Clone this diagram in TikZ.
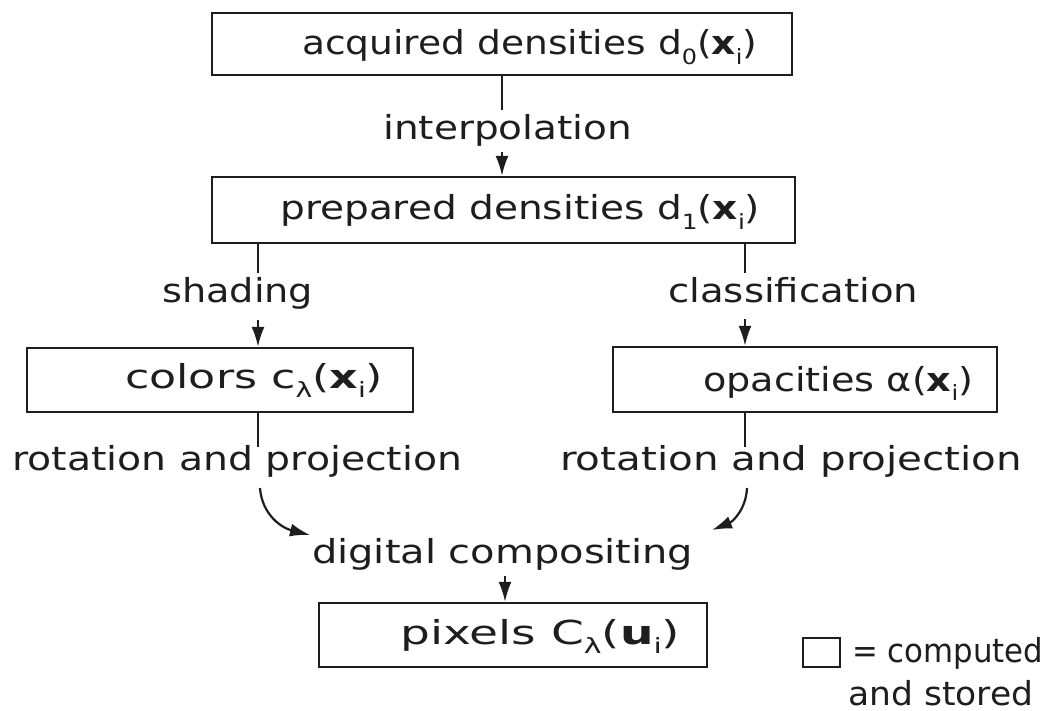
\documentclass[tikz,border=0pt]{standalone}
\usepackage{fontspec}
\setmainfont{DejaVu Sans}
\usepackage{graphicx}
\usetikzlibrary{arrows.meta}
\definecolor{ink}{HTML}{1E1E1E}
\newcommand\lowsub[1]{\raisebox{-0.5ex}{\fontsize{21}{22}\selectfont #1}}
\newcommand\fitw[2]{\resizebox{#1pt}{\height}{#2}}
\begin{document}
\begin{tikzpicture}[x=1pt,y=-1pt,
  stored/.style={draw=ink, line width=2.4pt, inner sep=0pt},
  lab/.style={inner sep=0pt, anchor=base west, text=ink, font=\fontsize{33}{36}\selectfont},
  conn/.style={draw=ink, line width=2.2pt},
  arr/.style={conn, -{Latex[length=20pt,width=13pt]}}]
\useasboundingbox[fill=white] (0,0) rectangle (1052,711);

% boxes
\node[stored, minimum width=580pt, minimum height=62pt] (A) at (502,44) {};
\node[stored, minimum width=583pt, minimum height=66pt] (B) at (503.5,210) {};
\node[stored, minimum width=386pt, minimum height=64pt] (C) at (220,380) {};
\node[stored, minimum width=384pt, minimum height=65pt] (D) at (805,379.5) {};
\node[stored, minimum width=388pt, minimum height=64pt] (E) at (513,635) {};
\node[draw=ink, line width=2pt, minimum width=37pt, minimum height=29pt, inner sep=0pt] (L) at (821.5,652.5) {};

% box texts
\node[lab] (tA) at (302,55) {\fitw{455}{acquired densities d\lowsub{0}(\textbf{x}\lowsub{i})}};
\node[lab] (tB) at (280,220) {\fitw{480}{prepared densities d\lowsub{1}(\textbf{x}\lowsub{i})}};
\node[lab] (tC) at (125,388) {\fitw{258}{colors c\lowsub{λ}(\textbf{x}\lowsub{i})}};
\node[lab] (tD) at (703,391) {\fitw{270}{opacities α(\textbf{x}\lowsub{i})}};
\node[lab] (tE) at (400,644) {\fitw{280}{pixels C\lowsub{λ}(\textbf{u}\lowsub{i})}};

% process labels
\node[lab] (interp) at (383,140) {\fitw{249}{interpolation}};
\node[lab] (shade) at (162,303) {\fitw{151}{shading}};
\node[lab] (classif) at (668,303) {\fitw{250}{classification}};
\node[lab] (rotL) at (12,470) {\fitw{450}{rotation and projection}};
\node[lab] (rotR) at (560,470) {\fitw{462}{rotation and projection}};
\node[lab] (comp) at (312,563) {\fitw{381}{digital compositing}};
\node[lab] (leg1) at (852,662) {\fitw{191}{= computed}};
\node[lab] (leg2) at (848,705) {\fitw{185}{and stored}};

% connector coordinates
\coordinate (a1) at (502,110);
\coordinate (a2) at (502,152);
\coordinate (b1) at (258,273);
\coordinate (b2) at (258,320);
\coordinate (c1) at (745,273);
\coordinate (c2) at (745,319);
\coordinate (d1) at (258,447);
\coordinate (d2) at (260,488);
\coordinate (d3) at (310,535);
\coordinate (e1) at (745,447);
\coordinate (e2) at (747,488);
\coordinate (e3) at (712,530);
\coordinate (f1) at (505,576);

% connectors
\draw[conn] (A.south -| a1) -- (a1);
\draw[arr] (a2) -- (B.north -| a2);
\draw[conn] (B.south -| b1) -- (b1);
\draw[arr] (b2) -- (C.north -| b2);
\draw[conn] (B.south -| c1) -- (c1);
\draw[arr] (c2) -- (D.north -| c2);
\draw[conn] (C.south -| d1) -- (d1);
\draw[arr] (d2) .. controls (262,515) and (282,528) .. (d3);
\draw[conn] (D.south -| e1) -- (e1);
\draw[arr] (e2) .. controls (746,510) and (732,522) .. (e3);
\draw[arr] (f1) -- (E.north -| f1);
\end{tikzpicture}
\end{document}
